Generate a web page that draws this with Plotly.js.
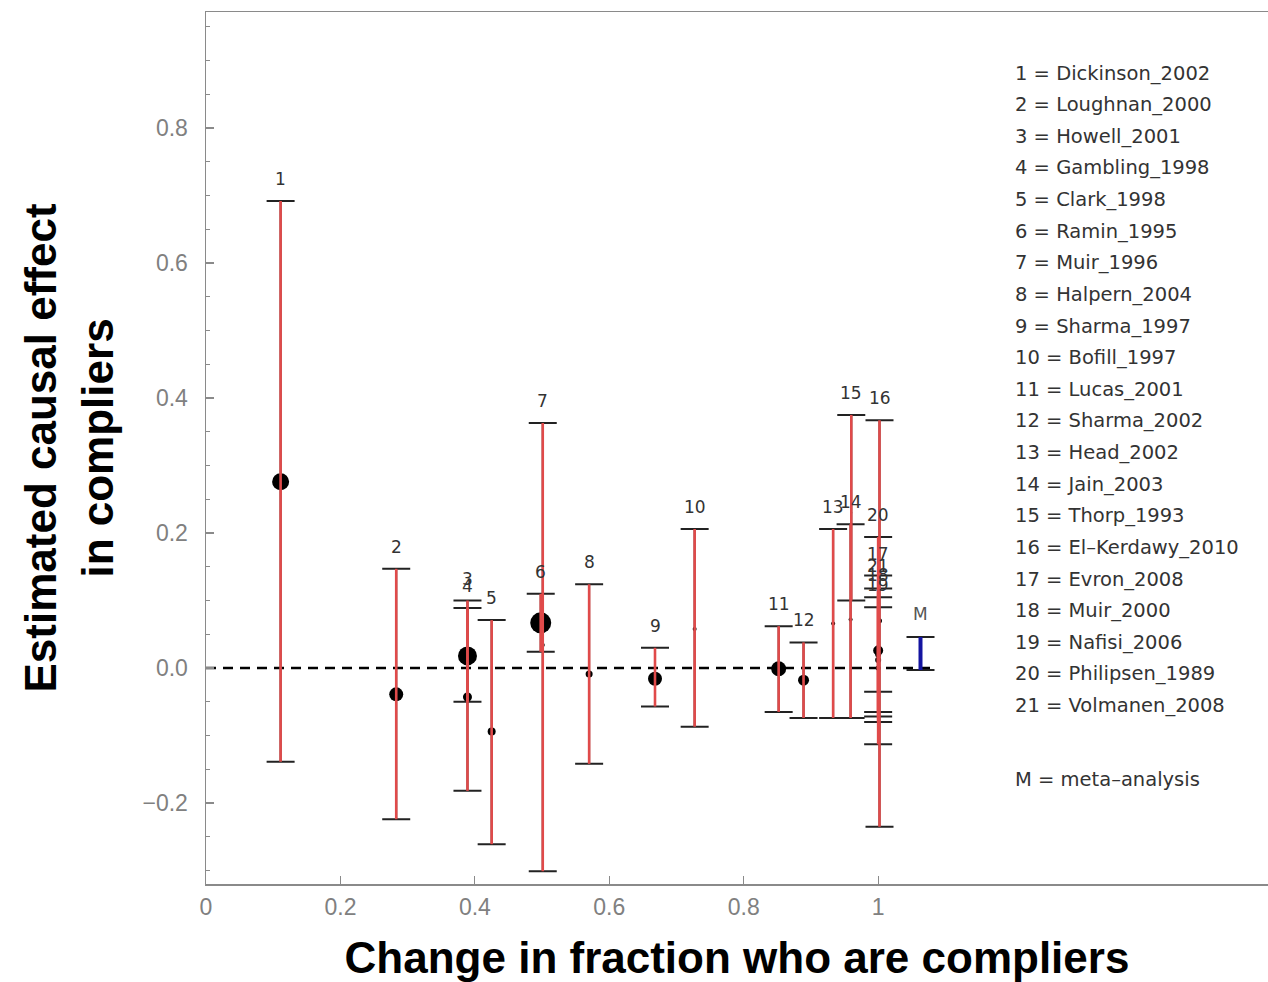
<!DOCTYPE html>
<html>
<head>
<meta charset="utf-8">
<script src="https://cdn.plot.ly/plotly-3.0.1.min.js"></script>
<style>html,body{margin:0;padding:0;background:#fff;}#chart{width:1268px;height:982px;}</style>
</head>
<body>
<div id="chart"></div>
<script>
// ---- data ----
const studyIds = ['1','2','3','4','5','6','7','8','9','10','11','12','13','14','15','16','17','18','19','20','21'];
const studyNames = ['Dickinson_2002','Loughnan_2000','Howell_2001','Gambling_1998','Clark_1998','Ramin_1995','Muir_1996','Halpern_2004','Sharma_1997','Bofill_1997','Lucas_2001','Sharma_2002','Head_2002','Jain_2003','Thorp_1993','El\u2013Kerdawy_2010','Evron_2008','Muir_2000','Nafisi_2006','Philipsen_1989','Volmanen_2008'];
const fracChange = [0.111, 0.283, 0.389, 0.389, 0.425, 0.498, 0.501, 0.570, 0.668, 0.727, 0.852, 0.889, 0.933, 0.959, 0.960, 1.002, 1.0, 1.0, 1.0, 1.0, 1.0];
const effect     = [0.276, -0.039, 0.018, -0.043, -0.094, 0.067, 0.034, -0.009, -0.016, 0.058, -0.001, -0.018, 0.066, 0.072, 0.23, 0.070, 0.012, 0.030, 0.020, 0.026, 0.000];
const ciLow      = [-0.139, -0.224, -0.050, -0.182, -0.261, 0.024, -0.301, -0.142, -0.057, -0.087, -0.065, -0.074, -0.074, -0.074, 0.100, -0.235, -0.080, -0.065, -0.035, -0.113, -0.072];
const ciHigh     = [0.692, 0.147, 0.100, 0.089, 0.071, 0.110, 0.363, 0.124, 0.030, 0.206, 0.062, 0.038, 0.206, 0.213, 0.375, 0.367, 0.137, 0.105, 0.090, 0.194, 0.118];
const dotSize    = [17, 14, 19, 9, 8, 21, 4, 7, 14, 4, 15, 11, 4, 4, 2, 5, 6, 5, 6, 10, 5];
const metaLabel = ['M'];
const metaX = [1.063];
const metaEst = [0.022];
const metaLow = [-0.003];
const metaHigh = [0.046];
const zeroLineX = [0, 1.08];
const zeroLineY = [0, 0];
const xTickVals = [0, 0.2, 0.4, 0.6, 0.8, 1];
const xTickText = ['0', '0.2', '0.4', '0.6', '0.8', '1'];

// ---- derived ----
const errPlus = ciHigh.map((h, i) => h - effect[i]);
const errMinus = ciLow.map((l, i) => effect[i] - l);
const metaPlus = metaHigh.map((h, i) => h - metaEst[i]);
const metaMinus = metaLow.map((l, i) => metaEst[i] - l);

const traces = [
  {x: zeroLineX, y: zeroLineY, mode: 'lines', line: {color: '#000', width: 2.5, dash: '10px,7px'}, hoverinfo: 'skip'},
  {x: fracChange, y: effect, mode: 'markers', marker: {size: dotSize, color: '#000', opacity: 1, line: {width: 0}}},
  {x: fracChange, y: effect, mode: 'markers', marker: {size: 1, opacity: 0},
   error_y: {type: 'data', symmetric: false, array: errPlus, arrayminus: errMinus, color: '#222', thickness: 2, width: 14}},
  {x: fracChange, y: effect, mode: 'markers', marker: {size: 1, opacity: 0},
   error_y: {type: 'data', symmetric: false, array: errPlus, arrayminus: errMinus, color: '#e04a4a', thickness: 2.6, width: 0}},
  {x: metaX, y: metaEst, mode: 'markers', marker: {size: 1, opacity: 0},
   error_y: {type: 'data', symmetric: false, array: metaPlus, arrayminus: metaMinus, color: '#222', thickness: 2, width: 14}},
  {x: metaX, y: metaEst, mode: 'markers', marker: {size: 1, opacity: 0},
   error_y: {type: 'data', symmetric: false, array: metaPlus, arrayminus: metaMinus, color: '#1414a0', thickness: 4, width: 0}}
];

const annotations = [];
studyIds.forEach((id, i) => {
  annotations.push({x: fracChange[i], y: ciHigh[i], xref: 'x', yref: 'y', text: id, showarrow: false,
    yshift: 22, font: {family: 'DejaVu Sans, Arial', size: 17, color: '#333'}});
});
metaLabel.forEach((id, i) => {
  annotations.push({x: metaX[i], y: metaHigh[i], xref: 'x', yref: 'y', text: id, showarrow: false,
    yshift: 23, font: {family: 'DejaVu Sans, Arial', size: 17, color: '#555'}});
});
// study key on the right
const keyTop = 73, keyStep = 31.63, plotTop = 12, plotH = 872;
studyIds.forEach((id, i) => {
  const py = keyTop + keyStep * i;
  annotations.push({xref: 'paper', yref: 'paper', x: 0.7595, y: 1 - (py - plotTop) / plotH, xanchor: 'left', yanchor: 'middle',
    text: id + ' = ' + studyNames[i], showarrow: false, font: {family: 'DejaVu Sans, Arial', size: 19.5, color: '#333'}});
});
annotations.push({xref: 'paper', yref: 'paper', x: 0.7595, y: 1 - (779 - plotTop) / plotH, xanchor: 'left', yanchor: 'middle',
  text: metaLabel[0] + ' = meta\u2013analysis', showarrow: false, font: {family: 'DejaVu Sans, Arial', size: 19.5, color: '#333'}});

const layout = {
  width: 1268, height: 982,
  margin: {l: 206, r: 0, t: 12, b: 98},
  paper_bgcolor: '#fff', plot_bgcolor: '#fff',
  showlegend: false,
  xaxis: {
    range: [0, 1.58], showgrid: false, zeroline: false,
    showline: true, linecolor: '#8a8a8a', linewidth: 1.5, mirror: true,
    tickmode: 'array', tickvals: xTickVals, ticktext: xTickText,
    ticks: 'inside', ticklen: 8, tickcolor: '#8a8a8a', tickwidth: 1.2,
    ticklabelstandoff: 2,
    tickfont: {family: 'Liberation Sans, Arial', size: 23, color: '#808080'},
    title: {text: 'Change in fraction who are compliers', font: {family: 'Liberation Sans, Arial', size: 44, color: '#000', weight: 'bold'}, standoff: 26}
  },
  yaxis: {
    range: [-0.32, 0.972], showgrid: false, zeroline: false,
    showline: true, linecolor: '#8a8a8a', linewidth: 1.5,
    tickmode: 'linear', tick0: 0, dtick: 0.2, tickformat: '.1f',
    ticks: 'inside', ticklen: 8, tickcolor: '#8a8a8a', tickwidth: 1.2,
    minor: {tickmode: 'linear', tick0: 0, dtick: 0.05, ticks: 'inside', ticklen: 4, tickcolor: '#8a8a8a', tickwidth: 1},
    ticklabelstandoff: 12,
    tickfont: {family: 'Liberation Sans, Arial', size: 23, color: '#808080'},
    title: {text: 'Estimated causal effect<br>in compliers', font: {family: 'Liberation Sans, Arial', size: 44, color: '#000', weight: 'bold'}, standoff: 15}
  },
  annotations: annotations
};

Plotly.newPlot('chart', traces, layout, {displayModeBar: false, staticPlot: true});
</script>
</body>
</html>
